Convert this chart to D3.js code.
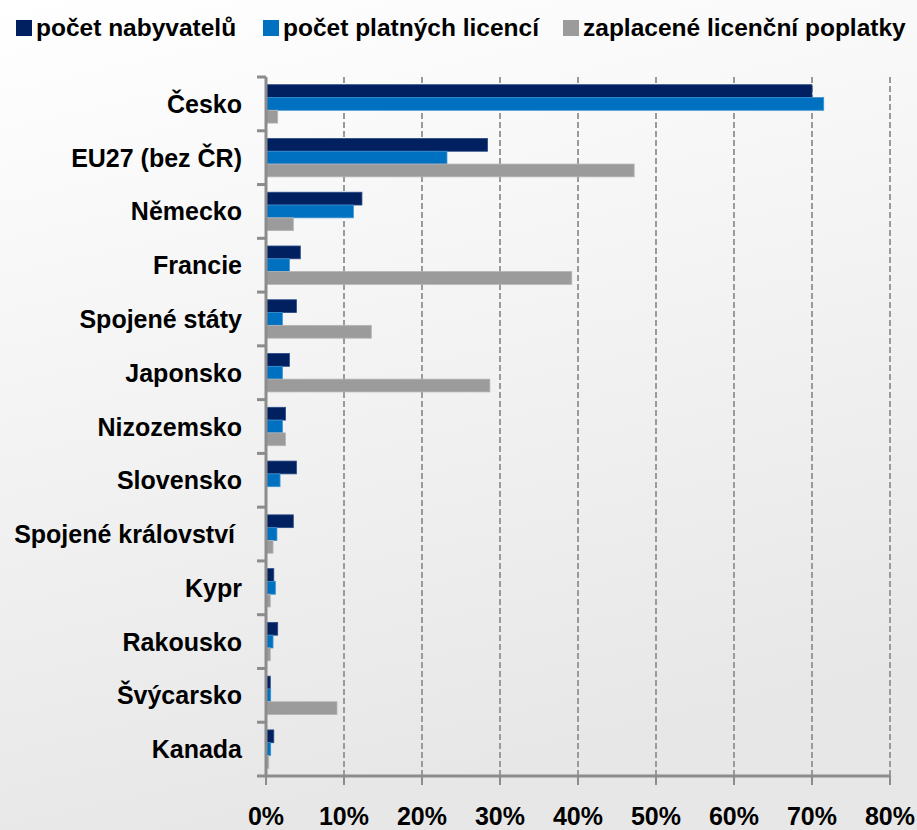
<!DOCTYPE html>
<html>
<head>
<meta charset="utf-8">
<script src="https://cdn.jsdelivr.net/npm/d3@7"></script>
<style>
  html, body { margin: 0; padding: 0; }
  body { width: 917px; height: 830px; overflow: hidden; }
  text { font-family: "Liberation Sans", Arial, sans-serif; font-weight: bold; fill: #000; }
</style>
</head>
<body>
<div id="chart"></div>
<script>
// Data (percent)
const categories = ['Česko', 'EU27 (bez ČR)', 'Německo', 'Francie', 'Spojené státy', 'Japonsko',
  'Nizozemsko', 'Slovensko', 'Spojené království ', 'Kypr', 'Rakousko', 'Švýcarsko', 'Kanada'];
const seriesNames = ['počet nabyvatelů', 'počet platných licencí', 'zaplacené licenční poplatky'];
const nabyvatelu = [70.0, 28.4, 12.3, 4.4, 3.9, 3.0, 2.5, 3.9, 3.5, 1.0, 1.5, 0.55, 1.0];
const licence = [71.5, 23.2, 11.2, 3.0, 2.1, 2.1, 2.1, 1.8, 1.4, 1.2, 0.9, 0.6, 0.6];
const poplatky = [1.5, 47.2, 3.5, 39.2, 13.5, 28.7, 2.5, 0, 0.9, 0.55, 0.55, 9.1, 0.35];
const xTicks = [0, 10, 20, 30, 40, 50, 60, 70, 80];

const colors = ['#002060', '#0070c0', '#9b9b9b'];
const strokes = ['#2a4a86', '#3a92d2', '#b4b4b4'];

const width = 917, height = 830;
const margin = { top: 77, right: 27, bottom: 54, left: 266 };

const svg = d3.select('#chart').append('svg')
  .attr('width', width)
  .attr('height', height);

// background gradient
const defs = svg.append('defs');
const grad = defs.append('linearGradient')
  .attr('id', 'bg')
  .attr('x1', '0').attr('y1', '0')
  .attr('x2', '0.25').attr('y2', '1');
grad.append('stop').attr('offset', '0%').attr('stop-color', '#ffffff');
grad.append('stop').attr('offset', '100%').attr('stop-color', '#e7e7e7');
svg.append('rect')
  .attr('width', width)
  .attr('height', height)
  .attr('fill', 'url(#bg)');

const x = d3.scaleLinear()
  .domain([0, 80])
  .range([margin.left, width - margin.right]);

const y0 = d3.scaleBand()
  .domain(categories)
  .range([margin.top, height - margin.bottom - 0])
  .paddingInner(0.286)
  .paddingOuter(0.143);

const y1 = d3.scaleBand()
  .domain([0, 1, 2])
  .range([0, y0.bandwidth()]);

const plotBottom = height - margin.bottom;

// Gridlines (dashed)
svg.append('g')
  .selectAll('line')
  .data(xTicks.slice(1))
  .enter().append('line')
  .attr('x1', d => x(d))
  .attr('x2', d => x(d))
  .attr('y1', margin.top)
  .attr('y2', plotBottom)
  .attr('stroke', '#9a9a9a')
  .attr('stroke-width', 2)
  .attr('stroke-dasharray', '6,3');

// Bars
const rows = categories.map((c, i) => ({ cat: c, values: [nabyvatelu[i], licence[i], poplatky[i]] }));

const groups = svg.append('g')
  .selectAll('g')
  .data(rows)
  .enter().append('g')
  .attr('transform', d => `translate(0,${y0(d.cat)})`);

groups.selectAll('rect')
  .data(d => d.values.map((v, k) => ({ v, k })))
  .enter().append('rect')
  .filter(d => d.v > 0)
  .attr('x', x(0))
  .attr('y', d => y1(d.k))
  .attr('width', d => x(d.v) - x(0))
  .attr('height', y1.bandwidth())
  .attr('fill', d => colors[d.k])
  .attr('stroke', d => strokes[d.k])
  .attr('stroke-width', 0.8);

// Y axis
const yAxis = svg.append('g');
yAxis.append('line')
  .attr('x1', x(0)).attr('x2', x(0))
  .attr('y1', margin.top).attr('y2', plotBottom)
  .attr('stroke', '#8c8c8c')
  .attr('stroke-width', 3);
const boundaries = categories.map(c => y0(c) - y0.step() * y0.paddingInner() / 2);
yAxis.selectAll('.ytick')
  .data(boundaries)
  .enter().append('line')
  .attr('class', 'ytick')
  .attr('x1', x(0) - 9).attr('x2', x(0))
  .attr('y1', d => d).attr('y2', d => d)
  .attr('stroke', '#8c8c8c')
  .attr('stroke-width', 3);
yAxis.selectAll('.ylabel')
  .data(categories)
  .enter().append('text')
  .attr('class', 'ylabel')
  .attr('x', x(0) - 24)
  .attr('y', d => y0(d) + y0.bandwidth() / 2)
  .attr('dy', '0.36em')
  .attr('text-anchor', 'end')
  .style('font-size', '25px')
  .style('white-space', 'pre')
  .text(d => d);

// X axis
const xAxis = svg.append('g');
xAxis.append('line')
  .attr('x1', x(0) - 9).attr('x2', x(80))
  .attr('y1', plotBottom).attr('y2', plotBottom)
  .attr('stroke', '#8c8c8c')
  .attr('stroke-width', 3);
xAxis.selectAll('.xtick')
  .data(xTicks)
  .enter().append('line')
  .attr('class', 'xtick')
  .attr('x1', d => x(d)).attr('x2', d => x(d))
  .attr('y1', plotBottom).attr('y2', plotBottom + 9)
  .attr('stroke', '#8c8c8c')
  .attr('stroke-width', 2);
xAxis.selectAll('.xlabel')
  .data(xTicks)
  .enter().append('text')
  .attr('class', 'xlabel')
  .attr('x', d => x(d))
  .attr('y', 825)
  .attr('text-anchor', 'middle')
  .style('font-size', '25px')
  .text(d => d + '%');

// Legend
const legendX = [16, 263, 563];
const legend = svg.append('g')
  .selectAll('g')
  .data(seriesNames)
  .enter().append('g')
  .attr('transform', (d, i) => `translate(${legendX[i]},0)`);
legend.append('rect')
  .attr('x', 0)
  .attr('y', 20)
  .attr('width', 16)
  .attr('height', 16)
  .attr('fill', (d, i) => colors[i]);
legend.append('text')
  .attr('x', 20)
  .attr('y', 36)
  .style('font-size', '24.5px')
  .text(d => d);
</script>
</body>
</html>
